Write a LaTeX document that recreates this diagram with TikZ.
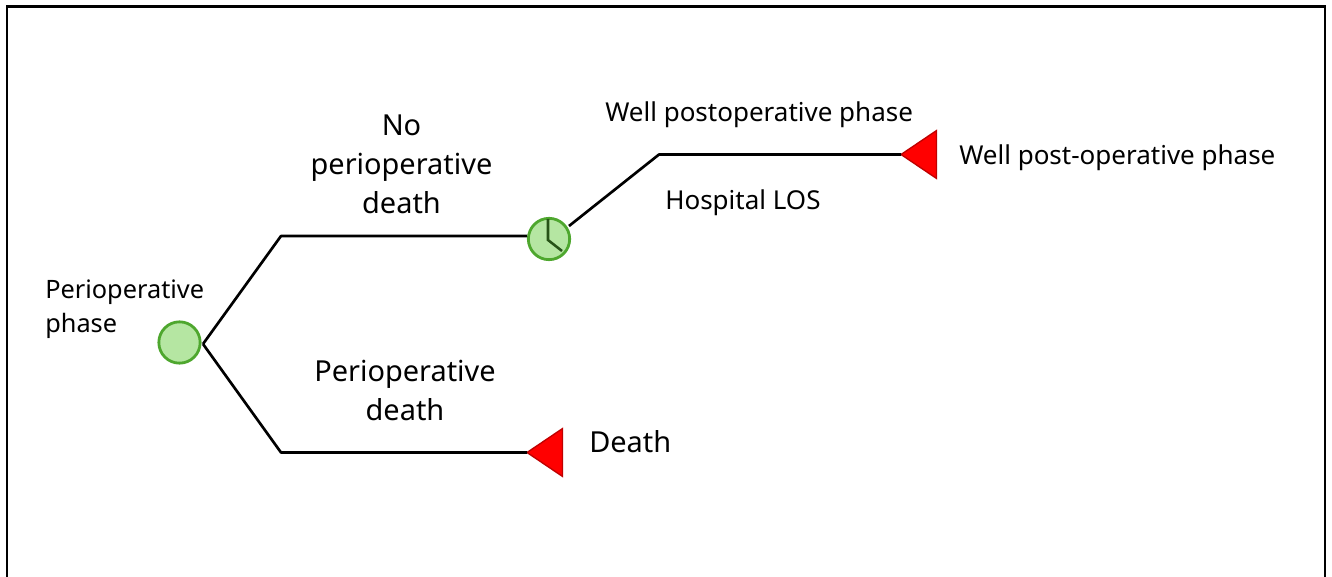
\documentclass[tikz,border=0pt]{standalone}
\usepackage{fontspec}
\setmainfont{Noto Sans}
\usetikzlibrary{shapes.geometric}
\definecolor{chancefill}{HTML}{B5E6A2}
\definecolor{chanceedge}{HTML}{4EA72E}
\definecolor{handcol}{HTML}{275317}
\definecolor{termedge}{HTML}{C00000}
\tikzset{
  x=0.75pt,y=-0.75pt,
  chance/.style={circle,draw=chanceedge,fill=chancefill,line width=2.1pt,minimum size=31pt,inner sep=0pt,outer sep=1pt},
  terminal/.style={isosceles triangle,isosceles triangle apex angle=68,shape border rotate=180,draw=termedge,fill=red,line width=1pt,inner sep=0pt,outer sep=0pt,minimum height=26.6pt,anchor=apex},
  branch/.style={draw=black,line width=2pt,line join=round},
  hand/.style={draw=handcol,line width=1.9pt},
  phasetxt/.style={font=\fontsize{19pt}{25.5pt}\selectfont,inner sep=0pt,align=left,text=black},
  smalltxt/.style={font=\fontsize{19.5pt}{25.5pt}\selectfont,inner sep=0pt,align=left,text=black},
  bigtxt/.style={font=\fontsize{21.7pt}{29.2pt}\selectfont,inner sep=0pt,align=center,text=black},
}
\begin{document}
\begin{tikzpicture}
\useasboundingbox (0,0) rectangle (1332,577);
\fill[white] (0,0) rectangle (1332,577);
\draw[black,line width=1.6pt] (7,585) -- (7,6.5) -- (1325,6.5) -- (1325,585);
\node[chance] (dec) at (179.5,342.5) {};
\node[chance] (clock) at (549,239) {};
\node[terminal] (well) at (901,154.5) {};
\node[terminal] (death) at (527,452.5) {};
\coordinate (join) at (203,344);
\coordinate (upper) at (281,236);
\coordinate (lower) at (281,452.5);
\coordinate (postbend) at (659,154.5);
\coordinate (clockout) at (569,226);
\draw[branch] (join) -- (upper) -- (clock.west |- upper);
\draw[branch] (join) -- (lower) -- (death.apex);
\draw[branch] (clockout) -- (postbend) -- (well.apex);
\draw[hand] (548,219) -- (548,240) -- (562,251);
\node[phasetxt,anchor=north west] (t1) at (45,280) {Perioperative\\phase};
\node[bigtxt,anchor=center] (t2) at (401.5,164) {No\\perioperative\\death};
\node[bigtxt,anchor=center] (t3) at (405,390.5) {Perioperative\\death};
\node[bigtxt,anchor=west] (t4) at (589,442) {Death};
\node[smalltxt,anchor=west] (t5) at (605,115) {Well postoperative phase};
\node[smalltxt,anchor=west] (t6) at (665,203) {Hospital LOS};
\node[smalltxt,anchor=west] (t7) at (959,158) {Well post-operative phase};
\end{tikzpicture}
\end{document}
